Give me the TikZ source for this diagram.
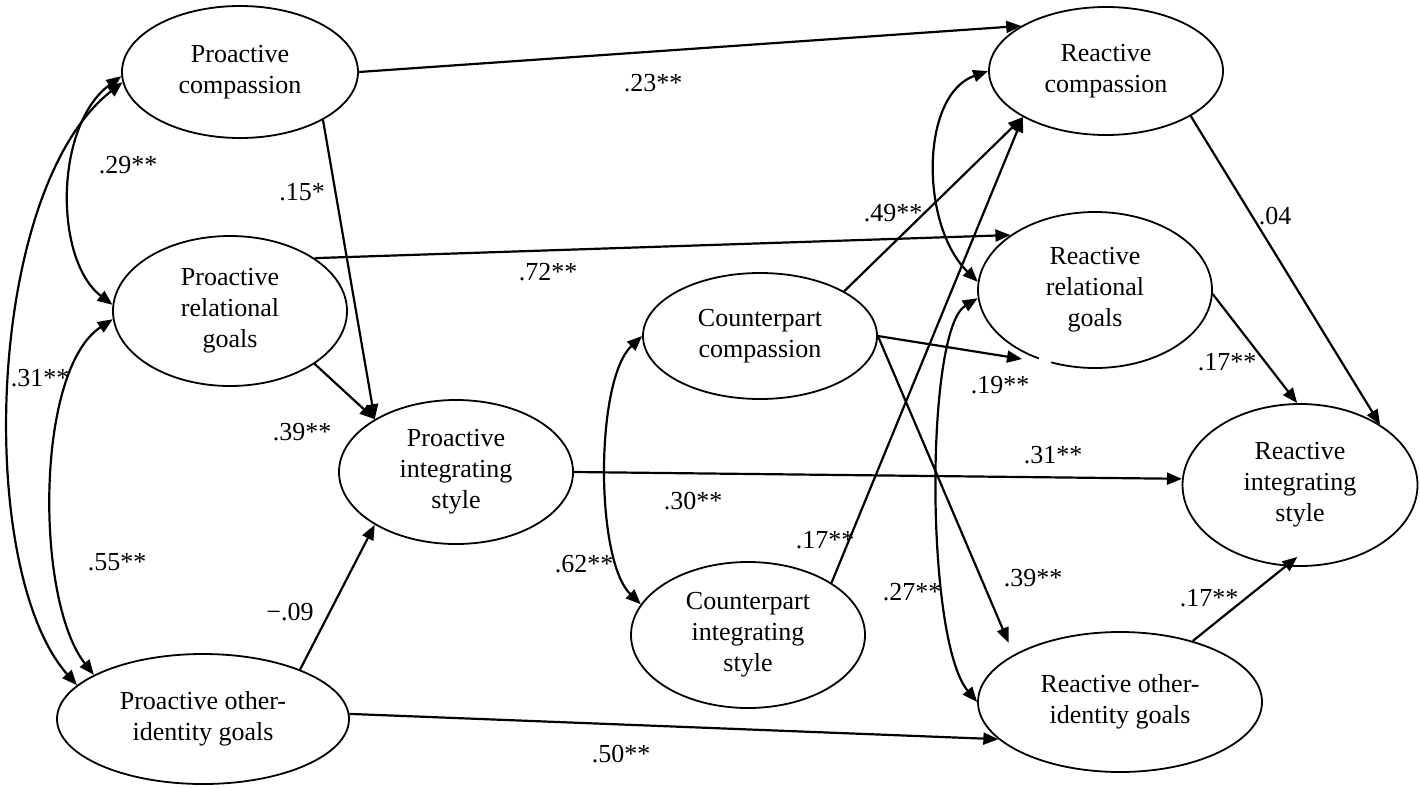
\documentclass[tikz,border=0pt]{standalone}
\usepackage{fontspec}
\setmainfont{Liberation Serif}
\usetikzlibrary{shapes.geometric,arrows.meta}
\begin{document}
\begin{tikzpicture}[x=1pt,y=-1pt,
  ell/.style={ellipse,draw,line width=1.8pt,inner sep=0pt,align=center,font=\fontsize{26}{31}\selectfont},
  lbl/.style={inner sep=0pt,font=\fontsize{26}{31}\selectfont},
  arr/.style={line width=2.2pt,-{Triangle[length=15pt,width=12pt]}},
  cor/.style={line width=2.2pt,{Triangle[length=15pt,width=12pt]}-{Triangle[length=15pt,width=12pt]}}]
\useasboundingbox (0,0) rectangle (1420,787);
% nodes
\node[ell,minimum width=236pt,minimum height=132pt] (pc) at (240,72) {Proactive\\compassion};
\node[ell,minimum width=234pt,minimum height=150pt] (pr) at (230,311) {Proactive\\relational\\goals};
\node[ell,minimum width=292pt,minimum height=130pt] (po) at (203,719) {Proactive other-\\identity goals};
\node[ell,minimum width=234pt,minimum height=144pt] (pi) at (456,472) {Proactive\\integrating\\style};
\node[ell,minimum width=234pt,minimum height=126pt] (cc) at (760,336) {Counterpart\\compassion};
\node[ell,minimum width=234pt,minimum height=146pt] (ci) at (748,635) {Counterpart\\integrating\\style};
\node[ell,minimum width=234pt,minimum height=128pt] (rc) at (1106,71) {Reactive\\compassion};
\node[ell,minimum width=234pt,minimum height=156pt] (rr) at (1095,290) {Reactive\\relational\\goals};
\node[ell,minimum width=235pt,minimum height=162pt] (ri) at (1300,485) {Reactive\\integrating\\style};
\node[ell,minimum width=284pt,minimum height=140pt] (ro) at (1120,702) {Reactive other-\\identity goals};
\coordinate (t19) at (1022,359);
% gap in ellipse
\draw[white,line width=5pt] (1039,358.5) -- (1051,362.3);
% directed paths
\draw[arr] (pc.east) -- (rc.152);
\draw[arr] (pc.-30) -- (pi.147);
\draw[arr] (pr.32) -- (rr.147);
\draw[arr] (pr.-32) -- (pi.147);
\draw[arr] (po.27) -- (pi.213);
\draw[arr] (po.2) -- (ro.197);
\draw[arr] (pi.east) -- (ri.177);
\draw[arr] (cc.28) -- (rc.209);
\draw[arr] (ci.32) -- (rc.209);
\draw[arr] (cc.east) -- (t19);
\draw[arr,shorten >=13pt] (cc.east) -- (ro.156);
\draw[arr] (rc.-28) -- (ri.37);
\draw[arr] (rr.-2) -- (ri.92);
\draw[arr,shorten >=-15pt] (ro.40) -- (ri.-100);
% correlations
\draw[cor] (pr.177) .. controls (54,260) and (54,126) .. (pc.182);
\draw[cor] (pc.185) .. controls (-15,190) and (-25,570) .. (po.165);
\draw[cor] (pr.184) .. controls (35,370) and (35,600) .. (po.158);
\draw[cor] (cc.west) .. controls (595,380) and (595,560) .. (ci.164);
\draw[cor] (rc.west) .. controls (920,95) and (920,225) .. (rr.176);
\draw[cor] (rr.184) .. controls (925,330) and (925,640) .. (ro.west);
% labels
\node[lbl] (l23) at (653,83) {.23**};
\node[lbl] (l15) at (302,192) {.15*};
\node[lbl] (l29) at (128,165) {.29**};
\node[lbl] (l31a) at (40,378) {.31**};
\node[lbl] (l72) at (548,272) {.72**};
\node[lbl] (l39a) at (302,432) {.39**};
\node[lbl] (l55) at (117,562) {.55**};
\node[lbl] (l09) at (290,612) {−.09};
\node[lbl] (l50) at (621,754) {.50**};
\node[lbl] (l31b) at (1053,455) {.31**};
\node[lbl] (l30) at (693,501) {.30**};
\node[lbl] (l49) at (893,213) {.49**};
\node[lbl] (l19) at (1000,385) {.19**};
\node[lbl] (l39b) at (1033,578) {.39**};
\node[lbl] (l17a) at (825,540) {.17**};
\node[lbl] (l04) at (1275,216) {.04};
\node[lbl] (l17b) at (1227,362) {.17**};
\node[lbl] (l17c) at (1209,598) {.17**};
\node[lbl] (l62) at (584,564) {.62**};
\node[lbl] (l27) at (912,592) {.27**};
\end{tikzpicture}
\end{document}
